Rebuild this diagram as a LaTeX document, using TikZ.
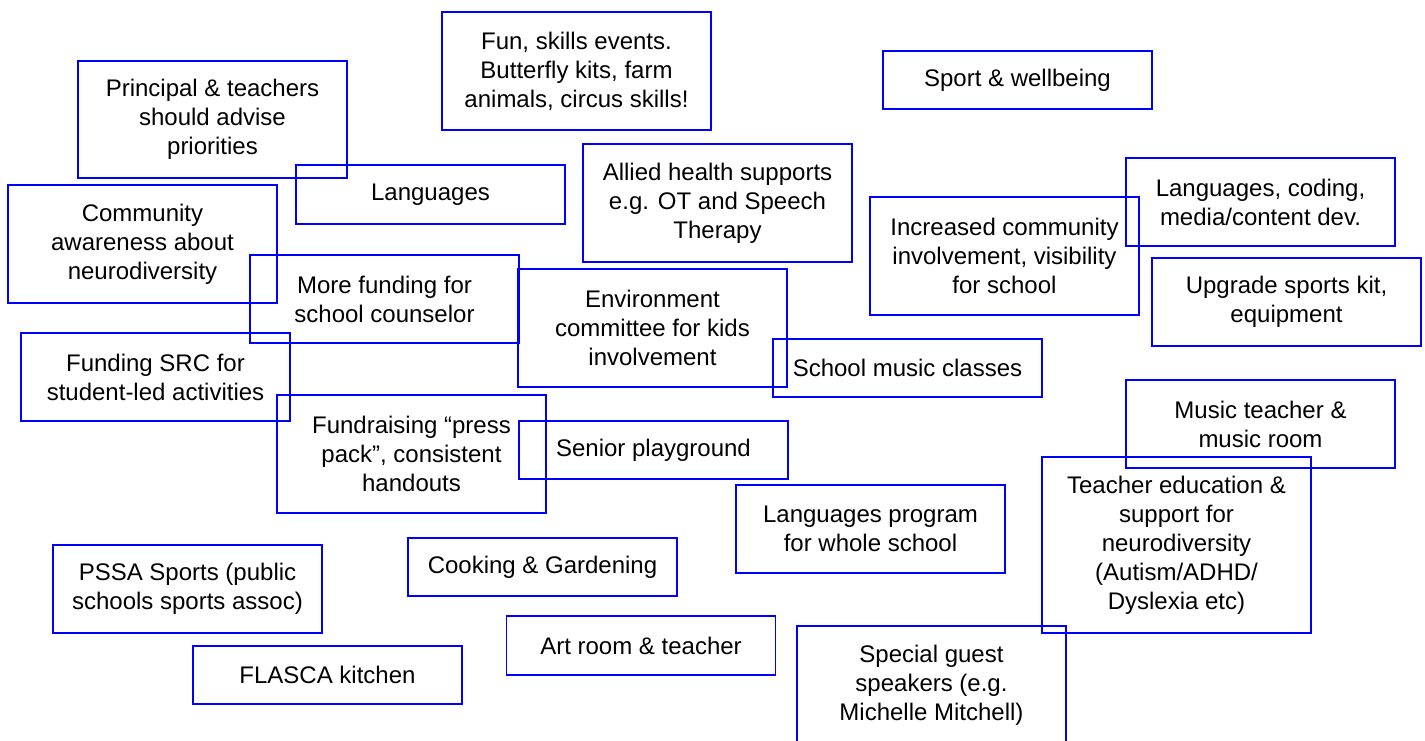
\documentclass[tikz,border=0pt]{standalone}
\usepackage{fontspec}
\setmainfont{Liberation Sans}
\usepackage{tikz}

\begin{document}
\begin{tikzpicture}[x=0.5pt,y=-0.5pt,
  idea/.style={draw=blue, line width=0.75pt, inner sep=0pt, align=center,
    minimum width=134.5pt, font=\fontsize{12}{14.5}\selectfont}]
\useasboundingbox (0,0) rectangle (1425,740);
\clip (0,0) rectangle (1425,740);

\node[idea, minimum height=58.5pt] (principal) at (212.5,119.5) {Principal \& teachers\\should advise\\priorities};
\node[idea, minimum height=59pt] (fun) at (576.5,71) {Fun, skills events.\\Butterfly kits, farm\\animals, circus skills!};
\node[idea, minimum height=29pt] (sport) at (1017.5,80) {Sport \& wellbeing};
\node[idea, minimum height=29.5pt] (languages) at (430.5,194.5) {Languages};
\node[idea, minimum height=59pt] (allied) at (717.5,203) {Allied health supports\\e.g. OT and Speech\\Therapy};
\node[idea, minimum height=59pt] (community) at (142.5,244) {Community\\awareness about\\neurodiversity};
\node[idea, minimum height=59pt] (involvement) at (1004.5,256) {Increased community\\involvement, visibility\\for school};
\node[idea, minimum height=44pt] (coding) at (1260.5,202) {Languages, coding,\\media/content dev.};
\node[idea, minimum height=44pt] (sportskit) at (1286.5,302) {Upgrade sports kit,\\equipment};
\node[idea, minimum height=44pt] (counselor) at (384.5,299) {More funding for\\school counselor};
\node[idea, minimum height=59pt] (environment) at (652.5,328) {Environment\\committee for kids\\involvement};
\node[idea, minimum height=44pt] (src) at (155.5,377) {Funding SRC for\\student-led activities};
\node[idea, minimum height=29pt] (musicclass) at (907.5,368) {School music classes};
\node[idea, minimum height=59pt] (pressPack) at (411.5,454) {Fundraising “press\\pack”, consistent\\handouts};
\node[idea, minimum height=29pt] (playground) at (653.5,450) {Senior playground};
\node[idea, minimum height=44pt] (musicroom) at (1260.5,424) {Music teacher \&\\music room};
\node[idea, minimum height=88pt] (teachered) at (1176.5,545) {Teacher education \&\\support for\\neurodiversity\\(Autism/ADHD/\\Dyslexia etc)};
\node[idea, minimum height=44pt] (langprog) at (870.5,529) {Languages program\\for whole school};
\node[idea, minimum height=44pt] (pssa) at (187.5,589) {PSSA Sports (public\\schools sports assoc)};
\node[idea, minimum height=29pt] (cooking) at (542.5,567) {Cooking \& Gardening};
\node[idea, minimum height=29.5pt] (artroom) at (641,645.5) {Art room \& teacher};
\node[idea, minimum height=29pt] (flasca) at (327.5,675) {FLASCA kitchen};
\node[idea, minimum height=59pt] (guest) at (931.5,685) {Special guest\\speakers (e.g.\\Michelle Mitchell)};
\end{tikzpicture}
\end{document}
